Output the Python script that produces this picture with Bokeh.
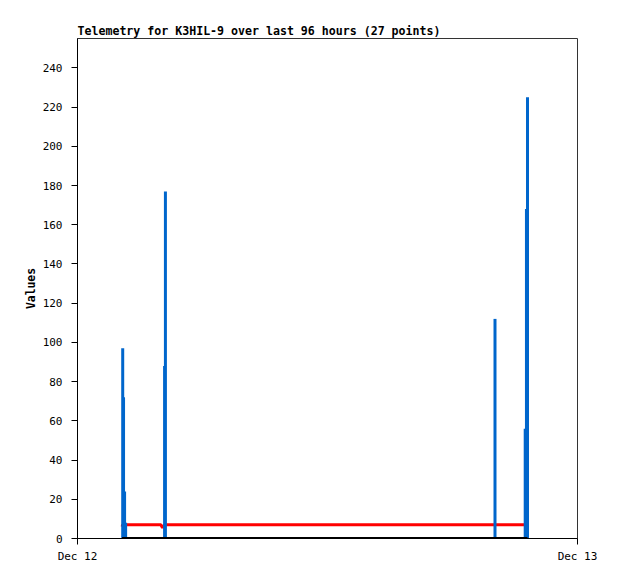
import pandas as pd
from bokeh.plotting import figure
from bokeh.models import Range1d, FixedTicker, DatetimeTickFormatter
from bokeh.embed import file_html
from bokeh.resources import INLINE

# 27 telemetry samples (hours after Dec 12 00:00)
hours = [2.14, 2.17, 2.21, 2.26, 2.31, 2.36,
         3.0, 4.0,
         4.08, 4.18, 4.22, 4.27,
         6.0, 8.0, 10.0, 12.0, 14.0, 16.0, 18.0,
         19.98, 20.04, 20.10,
         21.0, 21.44, 21.49, 21.55, 21.60]
blue_vals = [0, 97, 72, 24, 8, 0,
             0, 0,
             0, 88, 177, 0,
             0, 0, 0, 0, 0, 0, 0,
             0, 112, 0,
             0, 0, 56, 168, 225]
red_vals = [6.0, 7, 7, 7, 7, 7,
            7, 7,
            5.5, 7, 7, 7,
            7, 7, 7, 7, 7, 7, 7,
            7, 7, 7,
            7, 7, 7, 7, 7]
black_vals = [0] * 27
y_ticks = list(range(0, 241, 20))

start = pd.Timestamp("2023-12-12 00:00")
end = pd.Timestamp("2023-12-13 00:00")
times = [start + pd.Timedelta(hours=h) for h in hours]
zeros = [0] * len(times)

p = figure(width=618, height=579, x_axis_type="datetime",
           output_backend="svg", toolbar_location=None,
           title="Telemetry for K3HIL-9 over last 96 hours (27 points)",
           min_border_left=77, min_border_right=41,
           min_border_top=38, min_border_bottom=41)
p.x_range = Range1d(start, end)
p.y_range = Range1d(0, 255)

p.line(times, red_vals, line_color="#FF0000", line_width=3)
p.segment(x0=times, y0=zeros, x1=times, y1=blue_vals,
          line_color="#0066CC", line_width=3)
p.line(times, black_vals, line_color="#000000", line_width=3)

p.title.text_font = "DejaVu Sans Mono"
p.title.text_font_size = "11.6px"
p.title.text_font_style = "bold"
p.title.text_color = "#000000"
p.title.align = "left"
p.title.offset = 0
p.title.standoff = 2

p.xgrid.visible = False
p.ygrid.visible = False
p.outline_line_color = "#333333"
p.outline_line_width = 1
p.background_fill_color = "white"
p.border_fill_color = "white"

p.yaxis.ticker = FixedTicker(ticks=y_ticks)
p.yaxis.axis_label = "Values"
p.yaxis.axis_label_text_font = "DejaVu Sans Mono"
p.yaxis.axis_label_text_font_style = "bold"
p.yaxis.axis_label_text_font_size = "11.4px"
p.yaxis.axis_label_text_color = "#000000"
p.yaxis.axis_label_standoff = 2
p.yaxis.minor_tick_line_color = None

p.xaxis.ticker = FixedTicker(ticks=[start.value // 10**6, end.value // 10**6])
p.xaxis.formatter = DatetimeTickFormatter(days="%b %d", months="%b %d",
                                          hours="%b %d", years="%b %d")
p.xaxis.minor_tick_line_color = None

for ax in (p.xaxis, p.yaxis):
    ax.major_label_text_font = "DejaVu Sans Mono"
    ax.major_label_text_font_size = "11px"
    ax.major_label_text_color = "#000000"
    ax.axis_line_color = "#000000"
    ax.major_tick_line_color = "#000000"
    ax.major_tick_in = 0
    ax.major_tick_out = 6
p.yaxis.major_label_standoff = 9
p.xaxis.major_label_standoff = 5

open("out.html", "w").write(file_html(p, INLINE))
